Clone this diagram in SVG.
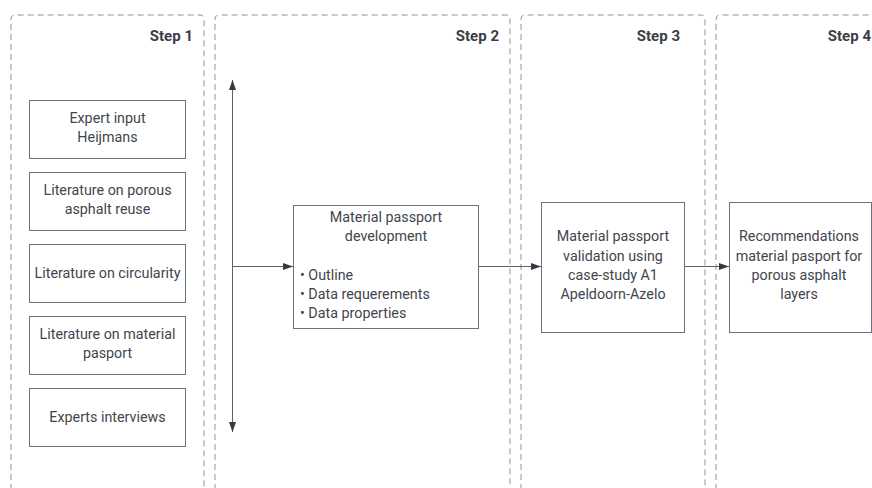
<svg xmlns="http://www.w3.org/2000/svg" width="872" height="488" viewBox="0 0 872 488">
  <style>
    .lane { fill: none; stroke: #8f949b; stroke-width: 1; stroke-dasharray: 6 4; }
    .step { font-family: Roboto, "Liberation Sans", sans-serif; font-size: 15px; font-weight: bold; fill: #3a3f47; text-anchor: end; }
    .box { fill: #ffffff; stroke: #6e727a; stroke-width: 1; }
    .t { font-family: Roboto, "Liberation Sans", sans-serif; font-size: 14.3px; fill: #41464e; text-anchor: middle; }
    .tl { font-family: Roboto, "Liberation Sans", sans-serif; font-size: 14.3px; fill: #41464e; }
    .edge { fill: none; stroke: #5d626a; stroke-width: 1; }
  </style>
  <defs>
    <marker id="arrow" viewBox="0 0 10 10" refX="10" refY="5" markerWidth="10" markerHeight="10" markerUnits="userSpaceOnUse" orient="auto-start-reverse">
      <path d="M0,1.5 L10,5 L0,8.5 Z" fill="#333a44"/>
    </marker>
  </defs>
  <rect width="872" height="488" fill="#ffffff"/>

  <!-- step lanes -->
  <g id="lanes">
    <path class="lane" d="M11,500 V19 Q11,15 15,15 H200 Q204,15 204,19 V500"/>
    <path class="lane" d="M215,500 V19 Q215,15 219,15 H506 Q510,15 510,19 V500"/>
    <path class="lane" d="M521,500 V19 Q521,15 525,15 H701 Q705,15 705,19 V500"/>
    <path class="lane" d="M716,500 V19 Q716,15 720,15 H880"/>
    <text class="step" x="193" y="41">Step 1</text>
    <text class="step" x="499" y="41">Step 2</text>
    <text class="step" x="680" y="41">Step 3</text>
    <text class="step" x="871" y="41">Step 4</text>
  </g>

  <!-- step 1 inputs -->
  <g id="expert-input">
    <rect class="box" x="29.5" y="100.5" width="156" height="58"/>
    <text class="t" x="107.5" y="123">Expert input</text>
    <text class="t" x="107.5" y="142">Heijmans</text>
  </g>
  <g id="lit-porous">
    <rect class="box" x="29.5" y="172.5" width="156" height="58"/>
    <text class="t" x="107.5" y="195">Literature on porous</text>
    <text class="t" x="107.5" y="214">asphalt reuse</text>
  </g>
  <g id="lit-circularity">
    <rect class="box" x="29.5" y="244.5" width="156" height="58"/>
    <text class="t" x="107.5" y="278">Literature on circularity</text>
  </g>
  <g id="lit-passport">
    <rect class="box" x="29.5" y="316.5" width="156" height="58"/>
    <text class="t" x="107.5" y="339">Literature on material</text>
    <text class="t" x="107.5" y="358">pasport</text>
  </g>
  <g id="expert-interviews">
    <rect class="box" x="29.5" y="388.5" width="156" height="58"/>
    <text class="t" x="107.5" y="422">Experts interviews</text>
  </g>

  <!-- step 2 -->
  <g id="passport-development">
    <rect class="box" x="293.5" y="205.5" width="185" height="123"/>
    <text class="t" x="386" y="222">Material passport</text>
    <text class="t" x="386" y="241">development</text>
    <text class="tl" x="300" y="280">• Outline</text>
    <text class="tl" x="300" y="299">• Data requerements</text>
    <text class="tl" x="300" y="318">• Data properties</text>
  </g>

  <!-- step 3 -->
  <g id="passport-validation">
    <rect class="box" x="541.5" y="202.5" width="143" height="130"/>
    <text class="t" x="613" y="241">Material passport</text>
    <text class="t" x="613" y="261">validation using</text>
    <text class="t" x="613" y="280">case-study A1</text>
    <text class="t" x="613" y="299">Apeldoorn-Azelo</text>
  </g>

  <!-- step 4 -->
  <g id="recommendations">
    <rect class="box" x="729.5" y="202.5" width="142" height="130"/>
    <text class="t" x="799" y="241">Recommendations</text>
    <text class="t" x="799" y="261">material pasport for</text>
    <text class="t" x="799" y="280">porous asphalt</text>
    <text class="t" x="799" y="299">layers</text>
  </g>

  <!-- connectors -->
  <g id="connectors">
    <line class="edge" x1="232.5" y1="200" x2="232.5" y2="80" marker-end="url(#arrow)"/>
    <line class="edge" x1="232.5" y1="200" x2="232.5" y2="432" marker-end="url(#arrow)"/>
    <line class="edge" x1="232.5" y1="266.5" x2="293" y2="266.5" marker-end="url(#arrow)"/>
    <line class="edge" x1="479" y1="266.5" x2="541" y2="266.5" marker-end="url(#arrow)"/>
    <line class="edge" x1="685" y1="266.5" x2="729" y2="266.5" marker-end="url(#arrow)"/>
  </g>
</svg>
